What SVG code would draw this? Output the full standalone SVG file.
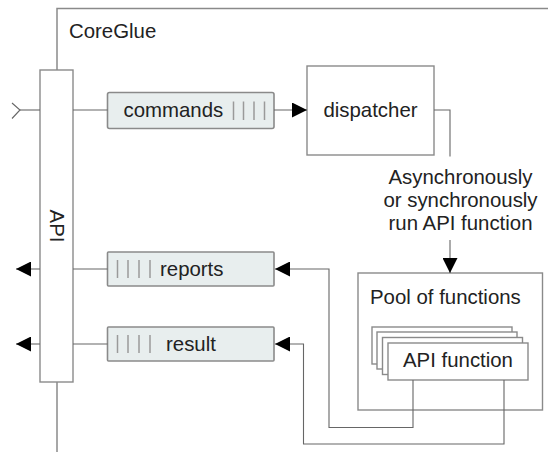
<svg xmlns="http://www.w3.org/2000/svg" width="548" height="452" viewBox="0 0 548 452">
<style>
text{font-family:"Liberation Sans",Arial,sans-serif;font-size:20.4px;fill:#222}
.frame{fill:none;stroke:#8a8a8a;stroke-width:1.5}
.box{fill:#fff;stroke:#8a8a8a;stroke-width:1.4}
.queue{fill:#e8eeee;stroke:#8a8a8a;stroke-width:1.6}
.bar{stroke:#9a9a9a;stroke-width:1.5}
.conn{fill:none;stroke:#666;stroke-width:1.1}
.head{fill:#000}
</style>
<defs>
<marker id="arr" viewBox="0 0 15 15" refX="15" refY="7.5" markerWidth="15" markerHeight="15" markerUnits="userSpaceOnUse" orient="auto">
<path d="M0,0 L15,7.5 L0,15 Z" class="head"/>
</marker>
</defs>
<g id="coreglue">
<path class="frame" d="M548,8.5 H57 V70 M57,382 V452"/>
<text x="69" y="37.5">CoreGlue</text>
</g>
<g id="api">
<rect class="box" x="40" y="70" width="33" height="312"/>
<text transform="translate(50,226) rotate(90)" text-anchor="middle">API</text>
</g>
<g id="commands">
<rect class="queue" x="107.5" y="92.5" width="166.5" height="36" rx="2"/>
<text x="123.5" y="117">commands</text>
<path class="bar" d="M233.5,101.5V120M243.5,101.5V120M254,101.5V120M264.5,101.5V120"/>
</g>
<g id="reports">
<rect class="queue" x="107.5" y="252" width="166.5" height="34" rx="1"/>
<path class="bar" d="M117.5,260V278M128,260V278M139,260V278M150,260V278"/>
<text x="160" y="275.5">reports</text>
</g>
<g id="result">
<rect class="queue" x="107.5" y="327" width="166.5" height="34" rx="1"/>
<path class="bar" d="M117.5,335V353M128,335V353M139,335V353M150,335V353"/>
<text x="166" y="350.5">result</text>
</g>
<g id="dispatcher">
<rect class="box" x="307" y="66" width="127" height="89"/>
<text x="370.5" y="116.5" text-anchor="middle">dispatcher</text>
</g>
<g id="pool">
<rect class="box" x="358" y="273" width="184.5" height="137"/>
<text x="370" y="304">Pool of functions</text>
</g>
<g id="apifunction">
<rect class="box" x="372" y="327" width="140" height="37"/>
<rect class="box" x="377" y="332" width="140" height="37"/>
<rect class="box" x="382.5" y="337.5" width="140" height="37"/>
<rect class="box" x="388" y="343" width="140" height="37"/>
<text x="458" y="367" text-anchor="middle">API function</text>
</g>
<g id="label">
<text x="460.5" y="183.5" text-anchor="middle">Asynchronously</text>
<text x="460.5" y="206.8" text-anchor="middle">or synchronously</text>
<text x="460.5" y="230" text-anchor="middle">run API function</text>
</g>
<g id="connectors">
<path class="conn" d="M12,103 L20,110 L12,118.5"/>
<path class="conn" d="M20,110 H40"/>
<path class="conn" d="M73,110 H107.5"/>
<path class="conn" d="M274,110 H307" marker-end="url(#arr)"/>
<path class="conn" d="M434,110 H450 V156.5"/>
<path class="conn" d="M450,240 V273" marker-end="url(#arr)"/>
<path class="conn" d="M413,380 V427.5 H329 V269 H275" marker-end="url(#arr)"/>
<path class="conn" d="M504,380 V444 H303.5 V344 H275" marker-end="url(#arr)"/>
<path class="conn" d="M73,269 H107.5"/>
<path class="conn" d="M73,344 H107.5"/>
<path class="conn" d="M40,269 H16" marker-end="url(#arr)"/>
<path class="conn" d="M40,344 H16" marker-end="url(#arr)"/>
</g>
</svg>
